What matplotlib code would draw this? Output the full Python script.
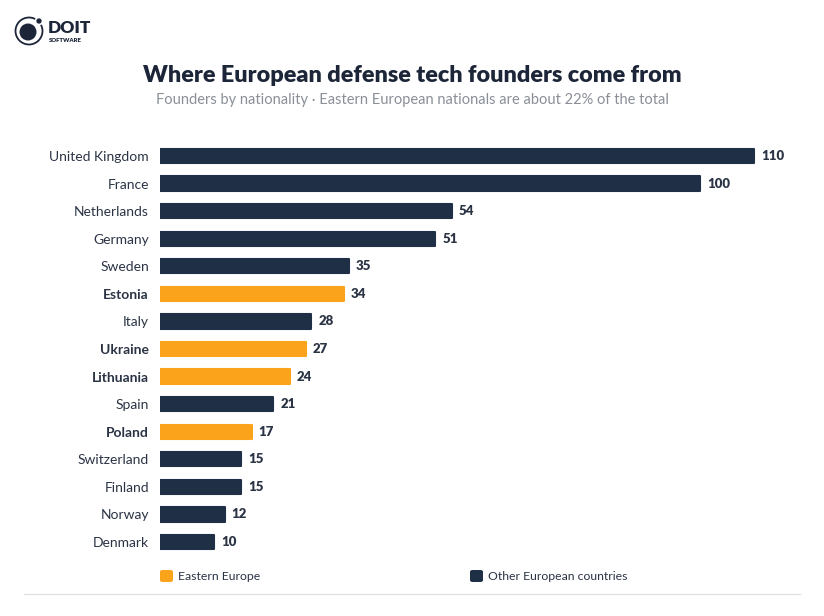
import matplotlib
matplotlib.use("Agg")
import matplotlib.pyplot as plt
from matplotlib.patches import Ellipse, FancyBboxPatch
from matplotlib.lines import Line2D

countries = ["United Kingdom", "France", "Netherlands", "Germany", "Sweden", "Estonia",
             "Italy", "Ukraine", "Lithuania", "Spain", "Poland", "Switzerland",
             "Finland", "Norway", "Denmark"]
founders = [110, 100, 54, 51, 35, 34, 28, 27, 24, 21, 17, 15, 15, 12, 10]
eastern = ["Estonia", "Ukraine", "Lithuania", "Poland"]

ORANGE = "#fba31b"
NAVY = "#1f2f46"
TEXT = "#2b3445"
GRAY = "#8a8f98"

plt.rcParams['font.family'] = ['Lato', 'DejaVu Sans']

W, H = 824, 616
fig = plt.figure(figsize=(W / 100, H / 100), dpi=100)
fig.patch.set_facecolor("white")

top_px, bot_px = 142.2, 555.8
ax = fig.add_axes([160 / W, 1 - bot_px / H, (800 - 160) / W, (bot_px - top_px) / H])
ypos = list(range(len(countries)))
colors = [ORANGE if c in eastern else NAVY for c in countries]
bars = ax.barh(ypos, founders, height=0.52, color=colors, edgecolor=colors,
               linewidth=1.5, joinstyle="round")
ax.set_ylim(len(countries) - 0.5, -0.5)
ax.set_xlim(0, 640 / 5.4)
ax.set_yticks(ypos)
ax.set_yticklabels(countries)
for lbl, c in zip(ax.get_yticklabels(), countries):
    lbl.set_fontsize(10)
    lbl.set_color(TEXT)
    if c in eastern:
        lbl.set_fontweight("bold")
ax.tick_params(axis="y", length=0, pad=8)
ax.set_xticks([])
for s in ax.spines.values():
    s.set_visible(False)

for y, v in zip(ypos, founders):
    ax.annotate(str(v), (v, y), xytext=(5, 0), textcoords="offset points",
                va="center", ha="left", fontsize=9.5, fontweight="heavy", color=TEXT)

# Title & subtitle
fig.text(412 / W, 1 - 75 / H, "Where European defense tech founders come from",
         ha="center", va="center", fontsize=16.8, fontweight="heavy", color="#1c2638")
fig.text(412 / W, 1 - 100 / H,
         "Founders by nationality \u00b7 Eastern European nationals are about 22% of the total",
         ha="center", va="center", fontsize=10.5, color=GRAY)

# Legend
def legend_item(x, color, label):
    fig.patches.append(FancyBboxPatch((x / W, 1 - 582 / H), 13 / W, 12 / H,
                                      boxstyle="round,pad=0,rounding_size=0.003",
                                      transform=fig.transFigure, facecolor=color,
                                      edgecolor="none"))
    fig.text((x + 18) / W, 1 - 576 / H, label, ha="left", va="center",
             fontsize=8.8, color=TEXT)

legend_item(160, ORANGE, "Eastern Europe")
legend_item(470, NAVY, "Other European countries")

# Bottom rule
fig.lines.append(Line2D([24 / W, 800 / W], [1 - 594 / H, 1 - 594 / H],
                        transform=fig.transFigure, color="#e3e3e3", linewidth=1))

# Logo
def circ(cx, cy, r, **kw):
    fig.patches.append(Ellipse((cx / W, 1 - cy / H), 2 * r / W, 2 * r / H,
                               transform=fig.transFigure, **kw))

circ(29, 31, 13.5, facecolor="none", edgecolor="#1c2638", linewidth=1.3)
circ(28, 32, 8.5, facecolor="#1c2638", edgecolor="none")
circ(39, 21, 3.5, facecolor="#1c2638", edgecolor="white", linewidth=1.2)
fig.text(48 / W, 1 - 28 / H, "DOIT", ha="left", va="center", fontsize=12.5,
         fontweight="heavy", color="#1c2638")
fig.text(48.5 / W, 1 - 40 / H, "SOFTWARE", ha="left", va="center", fontsize=4.3,
         fontweight="heavy", color="#1c2638")

fig.savefig("out.png", dpi=100, facecolor="white")
